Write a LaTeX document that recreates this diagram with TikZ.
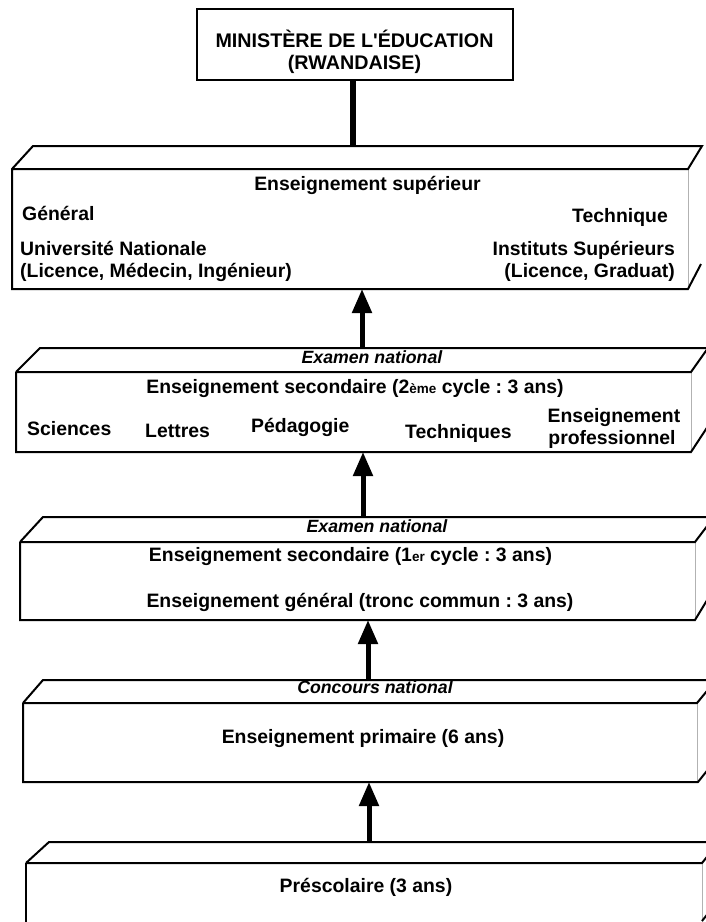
\documentclass[tikz,border=0pt]{standalone}
\usepackage{fontspec}
\setmainfont{Liberation Sans}
\newfontfamily\arialfont{Liberation Sans}
\usetikzlibrary{arrows.meta}
\frenchspacing
\tikzset{
  face/.style={line width=2pt, line join=miter},
  faint/.style={line width=1pt, draw=black!30},
  conn/.style={line width=5.5pt},
  arr/.style={line width=5pt, -{Triangle[width=19pt,length=24pt]}},
  lbl/.style={font=\arialfont\bfseries\fontsize{19.4}{22}\selectfont, inner sep=0pt, anchor=base},
  minlbl/.style={font=\arialfont\bfseries\fontsize{19.7}{22}\selectfont, inner sep=0pt, anchor=base},
  ital/.style={font=\arialfont\bfseries\itshape\fontsize{17.7}{20}\selectfont, inner sep=0pt, anchor=base},
  ministrybox/.style={draw, line width=2pt, minimum width=316pt, minimum height=71pt, inner sep=0pt}
}
\newcommand{\petit}[1]{{\fontsize{13.5}{13.5}\selectfont #1}}
\begin{document}
\begin{tikzpicture}[x=1pt,y=-1pt]
\useasboundingbox (0,0) rectangle (706,922);
\fill[white] (0,0) rectangle (706,922);
\clip (0,0) rectangle (706,922);

% Ministry
\node[ministrybox] (min) at (355,44.5) {};
\node[minlbl] (min1) at (354.5,47) {MINISTÈRE DE L'ÉDUCATION};
\node[minlbl] (min2) at (354.5,69) {(RWANDAISE)};

% Box 1 : enseignement supérieur
\draw[faint] (688,169) -- (688,289);
\draw[face] (701,264) -- (688,289) -- (12,289) -- (12,169) -- (33,146) -- (702,146) -- (688,169) -- (12,169);
\coordinate (b1top) at (353,146);
\coordinate (b1bot) at (362,289);
\node[lbl] (sup) at (367.5,190) {Enseignement supérieur};
\node[lbl, anchor=base west] (gen) at (22,220) {Général};
\node[lbl, anchor=base east] (tech) at (668,222) {Technique};
\node[lbl, anchor=base west] (univ1) at (20,255) {Université Nationale};
\node[lbl, anchor=base west] (univ2) at (20,277) {(Licence, Médecin, Ingénieur)};
\node[lbl, anchor=base east] (inst1) at (675,255) {Instituts Supérieurs};
\node[lbl, anchor=base east] (inst2) at (675,277) {(Licence, Graduat)};

% Box 2 : secondaire 2e cycle
\draw[faint] (691,372) -- (691,452);
\draw[face] (16,372) -- (40,348) -- (730,348);
\draw[face] (16,372) -- (691,372) -- (708,348);
\draw[face] (16,372) -- (16,452) -- (691,452) -- (712,420);
\coordinate (b2top) at (362,348);
\coordinate (b2bot) at (363,452);
\node[ital] (ex1) at (372,363) {Examen national};
\node[lbl] (sec2) at (355,393) {Enseignement secondaire (2\petit{ème} cycle : 3 ans)};
\node[lbl, anchor=base west] (sci) at (27,435) {Sciences};
\node[lbl, anchor=base west] (let) at (145,437) {Lettres};
\node[lbl, anchor=base west] (ped) at (251,432) {Pédagogie};
\node[lbl, anchor=base west] (techn) at (405,438) {Techniques};
\node[lbl] (pro1) at (614,422) {Enseignement};
\node[lbl] (pro2) at (612,444) {professionnel};

% Box 3 : secondaire 1er cycle
\draw[faint] (695,542) -- (695,620);
\draw[face] (20,542) -- (43,517) -- (730,517);
\draw[face] (20,542) -- (695,542) -- (714,517);
\draw[face] (20,542) -- (20,620) -- (695,620) -- (712,592);
\coordinate (b3top) at (363,517);
\coordinate (b3bot) at (368,620);
\node[ital] (ex2) at (377,532) {Examen national};
\node[lbl] (sec1) at (350.5,561) {Enseignement secondaire (1\petit{er} cycle : 3 ans)};
\node[lbl] (tronc) at (360,607) {Enseignement général (tronc commun : 3 ans)};

% Box 4 : primaire
\draw[faint] (697,703) -- (697,782);
\draw[face] (23,703) -- (43,680) -- (730,680);
\draw[face] (23,703) -- (697,703) -- (716,680);
\draw[face] (23,703) -- (23,782) -- (698,782) -- (714,762);
\coordinate (b4top) at (368,680);
\coordinate (b4bot) at (369,782);
\node[ital] (conc) at (375,693) {Concours national};
\node[lbl] (prim) at (363,743) {Enseignement primaire (6 ans)};

% Box 5 : préscolaire
\draw[faint] (702,863) -- (702,922);
\draw[face] (26,863) -- (49,842) -- (730,842);
\draw[face] (26,863) -- (702,863) -- (719,842);
\draw[face] (26,863) -- (26,930);
\draw[face] (702,921) -- (710,911);
\coordinate (b5top) at (369,842);
\node[lbl] (pre) at (366,892) {Préscolaire (3 ans)};

% Connectors
\draw[conn] (min.south -| b1top) -- (b1top);
\draw[arr] (b2top) -- (b1bot);
\draw[arr] (b3top) -- (b2bot);
\draw[arr] (b4top) -- (b3bot);
\draw[arr] (b5top) -- (b4bot);
\end{tikzpicture}
\end{document}
